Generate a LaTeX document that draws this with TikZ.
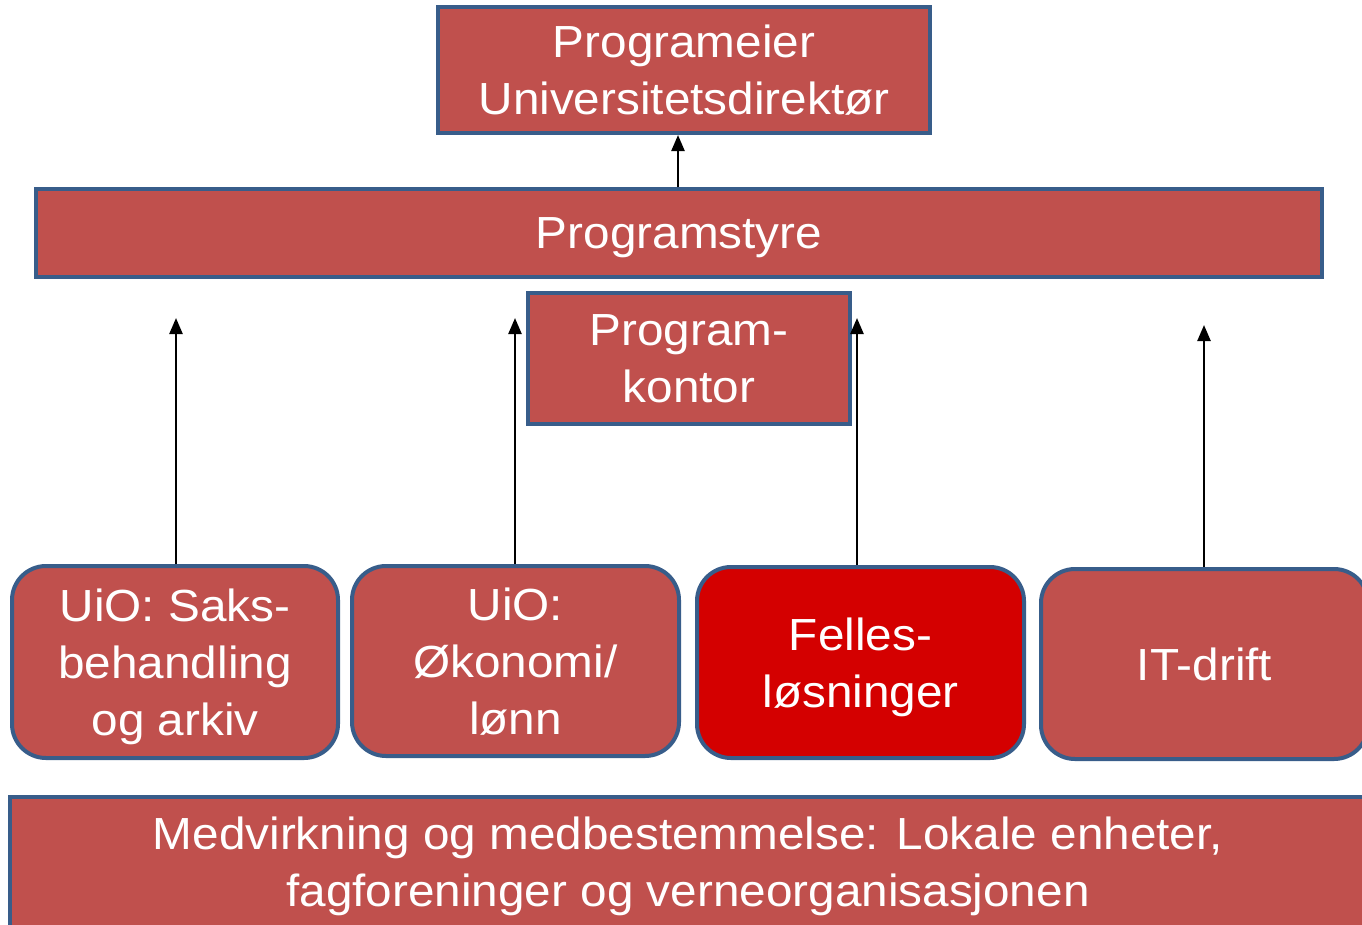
\documentclass[tikz,border=0pt]{standalone}
\usepackage{fontspec}
\setmainfont[FakeStretch=1.06]{Liberation Sans}
\usetikzlibrary{arrows.meta}
\definecolor{boxfill}{HTML}{C0504D}
\definecolor{boxline}{HTML}{385D8A}
\definecolor{hotfill}{HTML}{D40000}
\tikzset{
  box/.style={draw=boxline, line width=4pt, fill=boxfill, text=white, align=center, inner sep=0pt,
    text depth=0pt, font=\fontsize{45}{57}\selectfont},
  rbox/.style={box, rounded corners=34pt},
  arr/.style={line width=2.4pt, -{Triangle[width=13pt,length=16pt]}},
}
\begin{document}
\begin{tikzpicture}[x=1pt,y=-1pt]
\useasboundingbox (0,0) rectangle (1362,924);
\clip (0,0) rectangle (1362,924);
\node[box, minimum width=492pt, minimum height=126pt] (top) at (684,70) {Programeier\\Universitetsdirektør};
\node[box, minimum width=1286pt, minimum height=88pt] (ps) at (679,233) {Programstyre};
\node[box, minimum width=322pt, minimum height=131pt] (pk) at (689,358.5) {Program-\\kontor};
\node[rbox, minimum width=326pt, minimum height=192pt] (b1) at (175,662) {UiO: Saks-\\behandling\\og arkiv};
\node[rbox, minimum width=327pt, minimum height=190pt] (b2) at (515.5,661) {UiO:\\Økonomi/\\lønn};
\node[rbox, fill=hotfill, minimum width=327pt, minimum height=191pt] (b3) at (860.5,662.5) {Felles-\\løsninger};
\node[rbox, minimum width=327pt, minimum height=190pt] (b4) at (1204.5,664) {IT-drift};
\node[box, minimum width=1356pt, minimum height=130pt] (mb) at (688,862) {Medvirkning og medbestemmelse: Lokale enheter,\\fagforeninger og verneorganisasjonen};
\coordinate (t1) at (176,318);
\coordinate (t2) at (515,318);
\coordinate (t3) at (857,318);
\coordinate (t4) at (1204,325);
\draw[arr] (ps.north -| 678,0) -- (678,0 |- top.south);
\draw[arr] (t1 |- b1.north) -- (t1);
\draw[arr] (t2 |- b2.north) -- (t2);
\draw[arr] (t3 |- b3.north) -- (t3);
\draw[arr] (t4 |- b4.north) -- (t4);
\end{tikzpicture}
\end{document}
